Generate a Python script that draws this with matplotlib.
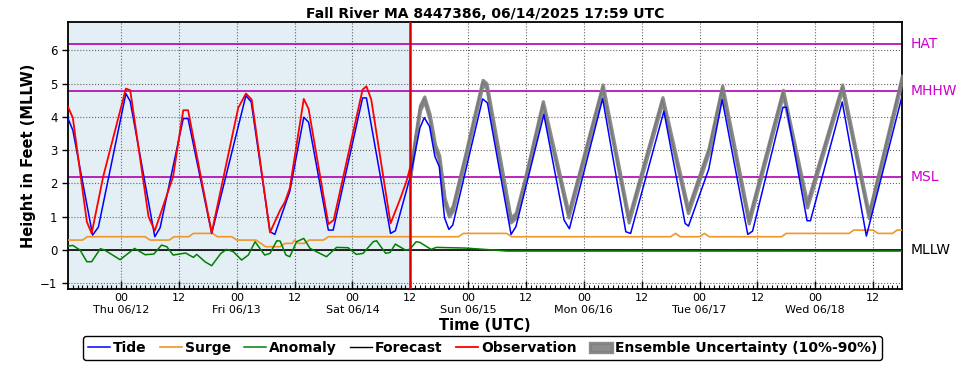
import matplotlib
matplotlib.use("Agg")
import matplotlib.pyplot as plt
import matplotlib.transforms as mtransforms
import numpy as np

# hours since 2025-06-12 00 UTC
NOW_HR = 60

tide_t = [-11, -10, -5.9, -4.7, 1.0, 1.9, 7.0, 8.1, 12.9, 13.9, 18.8, 25.9, 27.0,
          30.9, 31.9, 35.0, 37.9, 38.9, 43.0, 44.0, 50.1, 50.9, 55.9, 56.9, 60.0,
          62.0, 62.9, 64.0, 65.1, 66.0, 67.1, 68.0, 68.8, 75.0, 76.0, 80.9, 81.9,
          87.7, 91.9, 93.0, 99.9, 104.7, 105.7, 112.6, 117.0, 117.7, 121.9, 124.7,
          130.0, 131.0, 137.3, 138.0, 142.3, 143.0, 149.6, 154.6, 162.0]
tide_v = [3.95, 3.6, 0.45, 0.69, 4.70, 4.47, 0.40, 0.67, 3.95, 3.95, 0.50, 4.64, 4.45,
          0.55, 0.47, 1.76, 3.99, 3.84, 0.60, 0.60, 4.57, 4.57, 0.50, 0.58, 2.21,
          3.67, 3.98, 3.71, 2.81, 2.51, 0.97, 0.62, 0.75, 4.54, 4.42, 0.47, 0.70,
          4.07, 0.90, 0.64, 4.55, 0.55, 0.50, 4.17, 0.80, 0.72, 2.43, 4.52,
          0.47, 0.57, 4.29, 4.29, 0.88, 0.88, 4.45, 0.42, 4.62]

surge_t = [-11, -8, -7, 5, 6, 10, 11, 14, 15, 19, 20, 23, 24, 28, 29, 30, 33, 34,
           35.5, 36, 36.8, 38, 39, 42, 43, 70, 71, 80, 81, 114, 115, 116, 120, 121,
           122, 137, 138, 151, 152, 156, 157, 160, 161, 162]
surge_v = [0.3, 0.3, 0.4, 0.4, 0.3, 0.3, 0.4, 0.4, 0.5, 0.5, 0.4, 0.4, 0.3, 0.3,
           0.2, 0.1, 0.1, 0.2, 0.2, 0.3, 0.2, 0.2, 0.3, 0.3, 0.4, 0.4, 0.5, 0.5,
           0.4, 0.4, 0.5, 0.4, 0.4, 0.5, 0.4, 0.4, 0.5, 0.5, 0.6, 0.6, 0.5, 0.5,
           0.6, 0.6]

anom_t = [-11, -10, -8.5, -7.1, -6.1, -4.3, -3.4, -0.2, 2.8, 5.0, 6.8, 8.4, 9.5,
          10.8, 13.4, 15.0, 15.7, 17.4, 18.8, 20.7, 21.9, 23.3, 25.0, 26.4, 27.8,
          29.8, 30.9, 32.3, 33.0, 34.2, 35.0, 36.4, 37.9, 39.2, 42.6, 44.7, 47.1,
          48.8, 50.2, 52.3, 53.0, 54.9, 55.8, 56.9, 57.8, 59.0, 59.9, 61.2, 62.0,
          64.3, 65.4, 71.4, 77.4, 80.0, 162.0]
anom_v = [0.12, 0.14, 0.0, -0.35, -0.35, 0.04, 0.0, -0.29, 0.05, -0.14, -0.12, 0.15,
          0.10, -0.15, -0.09, -0.22, -0.13, -0.35, -0.47, -0.10, 0.02, -0.05, -0.30,
          -0.15, 0.25, -0.15, -0.10, 0.28, 0.27, -0.15, -0.20, 0.25, 0.35, 0.05,
          -0.20, 0.08, 0.07, -0.13, -0.10, 0.25, 0.28, -0.10, -0.07, 0.18, 0.10,
          0.0, 0.02, 0.25, 0.23, 0.02, 0.08, 0.06, 0.0, -0.03, -0.03]

fcst_t = [60.0, 61.0, 62.0, 62.9, 64.0, 65.1, 66.0, 67.1, 68.0, 68.8, 71.4, 75.0,
          75.8, 80.8, 81.9, 83.8, 87.5, 92.8, 99.9, 105.3, 112.3, 117.6, 121.9,
          124.7, 130.2, 137.3, 142.3, 149.6, 155.1, 162.0]
fcst_v = [2.30, 3.31, 4.27, 4.54, 4.01, 3.11, 2.76, 1.49, 1.08, 1.25, 2.80, 5.04,
          4.94, 0.90, 1.05, 2.10, 4.40, 1.05, 4.90, 0.90, 4.52, 1.18, 3.00,
          4.87, 0.87, 4.74, 1.35, 4.90, 1.03, 5.17]

obs_t = [-11, -10, -7.1, -6.1, -3.7, 1.0, 1.9, 5.7, 7.0, 10.8, 12.9, 13.9, 18.8,
         24.3, 25.9, 27.1, 30.9, 33.0, 34.0, 35.0, 37.9, 38.9, 43.0, 44.1, 50.1,
         50.9, 51.9, 55.9, 57.8, 59.2, 60.0]
obs_v = [4.30, 3.97, 0.85, 0.50, 2.21, 4.85, 4.80, 1.00, 0.58, 2.21, 4.20, 4.20, 0.52,
         4.27, 4.70, 4.52, 0.53, 1.20, 1.45, 1.86, 4.54, 4.24, 0.78, 0.90, 4.82,
         4.92, 4.52, 0.80, 1.50, 2.06, 2.50]

ens_spread = 0.07

datums = ["HAT", "MHHW", "MSL", "MLLW"]
datum_v = [6.20, 4.79, 2.19, 0.0]
datum_c = ["#cc00cc", "#cc00cc", "#cc00cc", "black"]

day_labels = ["Thu 06/12", "Fri 06/13", "Sat 06/14", "Sun 06/15",
              "Mon 06/16", "Tue 06/17", "Wed 06/18"]

plt.rcParams['font.family'] = ['DejaVu Sans']

fig = plt.figure(figsize=(9.69, 3.70), dpi=100)
ax = fig.add_axes([0.0702, 0.2189, 0.8607, 0.7216])

ax.axvspan(-11, NOW_HR, color="#e3eef5", zorder=0, lw=0)
for v, c in zip(datum_v, datum_c):
    ax.axhline(v, color="#b000b0" if c != "black" else "black", lw=1.2, zorder=2)

ax.plot(tide_t, tide_v, color="blue", lw=1.1, zorder=5, label="Tide")
ax.plot(surge_t, surge_v, color="#f0962a", lw=1.2, zorder=3, label="Surge")
ax.plot(anom_t, anom_v, color="green", lw=1.1, zorder=3, label="Anomaly")
ax.plot(fcst_t, fcst_v, color="black", lw=1.0, zorder=3, label="Forecast")
ax.plot(obs_t, obs_v, color="red", lw=1.3, zorder=6, label="Observation")
lo = np.array(fcst_v) - ens_spread
hi = np.array(fcst_v) + ens_spread
ax.fill_between(fcst_t, lo, hi, facecolor="#808080", edgecolor="#808080",
                lw=2.4, alpha=0.9, zorder=4, label="Ensemble Uncertainty (10%-90%)")
ax.axvline(NOW_HR, color="#dd0000", lw=1.8, zorder=7)

ax.set_xlim(-11, 162)
ax.set_ylim(-1.17, 6.85)

major = np.arange(0, 157, 12)
labels = []
for h in major:
    if h % 24 == 0:
        labels.append("00\n" + day_labels[int(h // 24)])
    else:
        labels.append("12")
ax.set_xticks(major)
ax.set_xticklabels(labels, fontsize=8)
ax.set_xticks(np.arange(-10, 162, 1), minor=True)
ax.tick_params(axis="x", which="major", direction="in", length=6, width=1, pad=3)
ax.tick_params(axis="x", which="minor", direction="in", length=3, width=0.8)
ax.set_yticks(range(-1, 7))
ax.set_yticklabels(["\u22121", "0", "1", "2", "3", "4", "5", "6"], fontsize=8.5)
ax.tick_params(axis="y", direction="out", length=4, width=1)
ax.grid(True, which="major", color="#666666", ls=":", lw=0.8)
for s in ax.spines.values():
    s.set_linewidth(1.3)

trans = mtransforms.blended_transform_factory(ax.transAxes, ax.transData)
for name, v, c in zip(datums, datum_v, datum_c):
    ax.text(1.01, v, name, transform=trans, color=c, fontsize=10, va="center", ha="left")

ax.set_title("Fall River MA 8447386, 06/14/2025 17:59 UTC", fontsize=10,
             fontweight="bold", pad=3)
ax.set_xlabel("Time (UTC)", fontsize=10.5, fontweight="bold", labelpad=2)
ax.set_ylabel("Height in Feet (MLLW)", fontsize=10.5, fontweight="bold", labelpad=3)

handles, labs = ax.get_legend_handles_labels()
fig.legend(handles, labs, loc="lower center", bbox_to_anchor=(0.498, 0.008), ncol=6,
           prop={"weight": "bold", "size": 10}, handlelength=1.6, handletextpad=0.2,
           columnspacing=0.95, borderpad=0.35, edgecolor="black", fancybox=True,
           framealpha=1)

fig.savefig("out.png", dpi=100)
